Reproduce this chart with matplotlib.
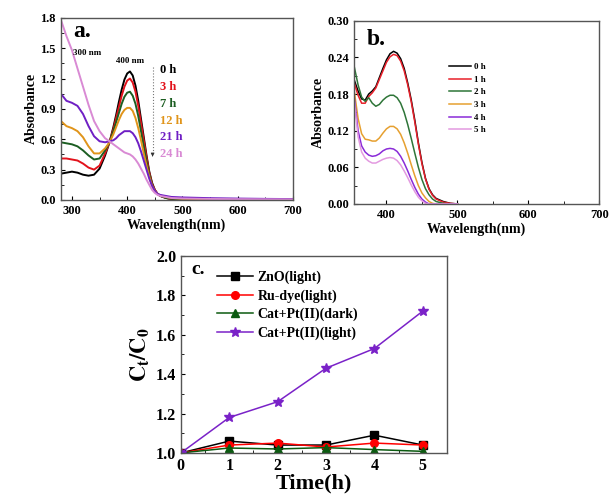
import matplotlib
matplotlib.use('Agg')
import matplotlib.pyplot as plt
from matplotlib.ticker import MultipleLocator

plt.rcParams['font.family'] = ['Liberation Serif', 'DejaVu Serif']
plt.rcParams['font.weight'] = 'bold'
plt.rcParams['mathtext.fontset'] = 'stix'

# ---------------- panel a data ----------------
WL_A = [280, 290, 300, 310, 320, 330, 340, 350, 360, 368, 375, 380, 385, 390, 395,
        400, 405, 410, 415, 420, 425, 430, 435, 440, 445, 450, 455, 460, 470, 480,
        500, 550, 600, 650, 700]
A_0h = [0.26, 0.27, 0.28, 0.27, 0.25, 0.24, 0.25, 0.31, 0.44, 0.57, 0.72, 0.84, 0.97, 1.09, 1.19,
        1.25, 1.27, 1.23, 1.13, 0.98, 0.80, 0.62, 0.44, 0.28, 0.17, 0.10, 0.06, 0.04, 0.02, 0.01,
        0.005, 0.003, 0.003, 0.002, 0.002]
A_3h = [0.41, 0.41, 0.40, 0.39, 0.36, 0.32, 0.30, 0.34, 0.46, 0.57, 0.70, 0.81, 0.92, 1.03, 1.12,
        1.18, 1.20, 1.16, 1.07, 0.93, 0.76, 0.59, 0.42, 0.27, 0.16, 0.10, 0.06, 0.04, 0.02, 0.01,
        0.006, 0.004, 0.003, 0.003, 0.002]
A_7h = [0.57, 0.56, 0.55, 0.53, 0.49, 0.44, 0.40, 0.41, 0.49, 0.57, 0.68, 0.77, 0.86, 0.95, 1.02,
        1.06, 1.07, 1.03, 0.95, 0.83, 0.68, 0.53, 0.38, 0.25, 0.15, 0.09, 0.06, 0.04, 0.02, 0.012,
        0.007, 0.005, 0.004, 0.003, 0.003]
A_12h = [0.78, 0.73, 0.71, 0.68, 0.62, 0.53, 0.46, 0.46, 0.51, 0.57, 0.65, 0.72, 0.79, 0.85, 0.89,
         0.91, 0.91, 0.88, 0.81, 0.71, 0.59, 0.46, 0.34, 0.23, 0.14, 0.09, 0.06, 0.045, 0.03, 0.02,
         0.012, 0.008, 0.006, 0.005, 0.004]
A_21h = [1.05, 0.98, 0.96, 0.93, 0.85, 0.73, 0.63, 0.58, 0.57, 0.58, 0.59, 0.61, 0.64, 0.66, 0.68,
         0.68, 0.68, 0.66, 0.62, 0.56, 0.48, 0.39, 0.30, 0.21, 0.14, 0.09, 0.06, 0.05, 0.04, 0.03,
         0.025, 0.018, 0.014, 0.011, 0.009]
A_24h = [1.78, 1.62, 1.48, 1.30, 1.12, 0.94, 0.78, 0.68, 0.61, 0.58, 0.55, 0.53, 0.51, 0.49, 0.47,
         0.46, 0.45, 0.43, 0.40, 0.36, 0.31, 0.26, 0.20, 0.15, 0.10, 0.07, 0.05, 0.04, 0.03, 0.02,
         0.015, 0.01, 0.008, 0.007, 0.006]
LABELS_A = ['0 h', '3 h', '7 h', '12 h', '21 h', '24 h']
COLORS_A = ['#000000', '#E2121B', '#1C5E22', '#E0941A', '#6F1FC4', '#D98AD4']

# ---------------- panel b data ----------------
WL_B = [354, 360, 365, 370, 375, 380, 385, 390, 395, 400, 405, 410, 415, 420, 425, 430,
        435, 440, 445, 450, 455, 460, 465, 470, 480, 490, 500]
B_0h = [0.205, 0.185, 0.172, 0.170, 0.180, 0.185, 0.192, 0.207, 0.222, 0.236, 0.246, 0.250, 0.247,
        0.238, 0.222, 0.198, 0.170, 0.137, 0.100, 0.068, 0.042, 0.025, 0.015, 0.009, 0.004, 0.001, 0.0]
B_1h = [0.200, 0.178, 0.165, 0.165, 0.176, 0.182, 0.190, 0.204, 0.218, 0.232, 0.241, 0.245, 0.243,
        0.234, 0.218, 0.195, 0.167, 0.134, 0.098, 0.066, 0.041, 0.024, 0.014, 0.008, 0.003, 0.001, 0.0]
B_2h = [0.228, 0.195, 0.175, 0.168, 0.174, 0.165, 0.160, 0.163, 0.170, 0.175, 0.178, 0.178, 0.174,
        0.165, 0.150, 0.130, 0.107, 0.083, 0.060, 0.040, 0.025, 0.015, 0.008, 0.004, 0.001, 0.0, 0.0]
B_3h = [0.190, 0.140, 0.115, 0.106, 0.105, 0.103, 0.103, 0.108, 0.116, 0.123, 0.127, 0.127, 0.123,
        0.114, 0.100, 0.083, 0.064, 0.046, 0.030, 0.018, 0.010, 0.004, 0.001, 0.0, 0.0, 0.0, 0.0]
B_4h = [0.180, 0.120, 0.095, 0.085, 0.080, 0.078, 0.079, 0.082, 0.087, 0.090, 0.091, 0.090, 0.086,
        0.078, 0.067, 0.054, 0.040, 0.027, 0.016, 0.008, 0.003, 0.0, 0.0, 0.0, 0.0, 0.0, 0.0]
B_5h = [0.175, 0.110, 0.085, 0.075, 0.070, 0.067, 0.067, 0.070, 0.073, 0.075, 0.076, 0.075, 0.071,
        0.064, 0.054, 0.043, 0.031, 0.020, 0.011, 0.005, 0.001, 0.0, 0.0, 0.0, 0.0, 0.0, 0.0]
LABELS_B = ['0 h', '1 h', '2 h', '3 h', '4 h', '5 h']
COLORS_B = ['#000000', '#E8202A', '#2E7538', '#E6A030', '#8A2BD8', '#E39AE0']

# ---------------- panel c data ----------------
TIME = [0, 1, 2, 3, 4, 5]
ZNO = [1.0, 1.06, 1.04, 1.04, 1.09, 1.04]
RU = [1.0, 1.04, 1.05, 1.03, 1.05, 1.04]
CAT_DARK = [1.0, 1.025, 1.02, 1.027, 1.017, 1.008]
CAT_LIGHT = [1.0, 1.18, 1.26, 1.43, 1.53, 1.72]
LABELS_C = ['ZnO(light)', 'Ru-dye(light)', 'Cat+Pt(II)(dark)', 'Cat+Pt(II)(light)']


def style_axes(ax, fs):
    for s in ax.spines.values():
        s.set_color('#555555')
        s.set_linewidth(1.0)
    ax.tick_params(which='both', direction='in', top=False, right=False, labelsize=fs)
    ax.tick_params(which='major', length=3)
    ax.tick_params(which='minor', length=2)
    for lab in ax.get_xticklabels() + ax.get_yticklabels():
        lab.set_fontweight('bold')


fig = plt.figure(figsize=(6.09, 4.95), dpi=100)

# ---- a ----
ax1 = fig.add_axes([0.100, 0.596, 0.381, 0.368])
for y, c in zip([A_0h, A_3h, A_7h, A_12h, A_21h, A_24h], COLORS_A):
    ax1.plot(WL_A, y, color=c, lw=1.4)
ax1.set_xlim(280, 700)
ax1.set_ylim(0, 1.8)
ax1.xaxis.set_major_locator(MultipleLocator(100))
ax1.xaxis.set_minor_locator(MultipleLocator(50))
ax1.yaxis.set_major_locator(MultipleLocator(0.3))
ax1.yaxis.set_minor_locator(MultipleLocator(0.15))
ax1.set_xlabel('Wavelength(nm)', fontsize=10, fontweight='bold', labelpad=1)
ax1.set_ylabel('Absorbance', fontsize=10, fontweight='bold', labelpad=2)
style_axes(ax1, 9)
ax1.text(302, 1.66, 'a.', fontsize=17, fontweight='bold', va='center')
ax1.text(302, 1.45, '300 nm', fontsize=6.5, fontweight='bold', va='center')
ax1.text(405, 1.37, '400 nm', fontsize=6.5, fontweight='bold', va='center', ha='center')
ax1.plot([446, 446], [1.31, 0.46], color='#777777', lw=0.8, ls=':')
ax1.annotate('', xy=(446, 0.40), xytext=(446, 0.47),
             arrowprops=dict(arrowstyle='-|>', color='#333333', lw=0.6, mutation_scale=5))
for i, (lab, c) in enumerate(zip(LABELS_A, COLORS_A)):
    ax1.text(460, 1.28 - i * 0.165, lab, color=c, fontsize=9, fontweight='bold', va='center')

# ---- b ----
ax2 = fig.add_axes([0.581, 0.588, 0.403, 0.370])
for y, c, lab in zip([B_0h, B_1h, B_2h, B_3h, B_4h, B_5h], COLORS_B, LABELS_B):
    ax2.plot(WL_B, y, color=c, lw=1.1, label=lab)
ax2.set_xlim(354, 700)
ax2.set_ylim(0, 0.30)
ax2.xaxis.set_major_locator(MultipleLocator(100))
ax2.xaxis.set_minor_locator(MultipleLocator(50))
ax2.yaxis.set_major_locator(MultipleLocator(0.06))
ax2.yaxis.set_minor_locator(MultipleLocator(0.03))
ax2.set_xlabel('Wavelength(nm)', fontsize=10, fontweight='bold', labelpad=1)
ax2.set_ylabel('Absorbance', fontsize=10, fontweight='bold', labelpad=2)
style_axes(ax2, 9)
ax2.text(372, 0.27, 'b.', fontsize=17, fontweight='bold', va='center')
ax2.legend(loc='upper left', bbox_to_anchor=(0.37, 0.795), frameon=False,
           prop={'size': 6.5, 'weight': 'bold'}, handlelength=2.4, handletextpad=0.3,
           labelspacing=0.48, borderpad=0)

# ---- c ----
ax3 = fig.add_axes([0.297, 0.085, 0.437, 0.398])
ax3.plot(TIME, ZNO, color='black', marker='s', ms=5.5, lw=1.1, label=LABELS_C[0])
ax3.plot(TIME, RU, color='#FF0000', marker='o', ms=5.5, lw=1.1, label=LABELS_C[1])
ax3.plot(TIME, CAT_DARK, color='#0B5A10', marker='^', ms=5.5, lw=1.1, label=LABELS_C[2])
ax3.plot(TIME, CAT_LIGHT, color='#7A22C8', marker='*', ms=7.5, lw=1.1, label=LABELS_C[3])
ax3.set_xlim(0, 5.5)
ax3.set_ylim(1.0, 2.0)
ax3.xaxis.set_major_locator(MultipleLocator(1))
ax3.xaxis.set_minor_locator(MultipleLocator(0.5))
ax3.yaxis.set_major_locator(MultipleLocator(0.2))
ax3.yaxis.set_minor_locator(MultipleLocator(0.1))
ax3.set_xlabel('Time(h)', fontsize=16, fontweight='bold', labelpad=0)
ax3.set_ylabel(r'$\mathbf{C_t/C_0}$', fontsize=16, labelpad=3)
style_axes(ax3, 11.5)
ax3.text(0.22, 1.93, 'c.', fontsize=14, fontweight='bold', va='center')
ax3.legend(loc='upper left', bbox_to_anchor=(0.11, 0.96), frameon=False,
           prop={'size': 10, 'weight': 'bold'}, handlelength=2.6, handletextpad=0.3,
           labelspacing=0.36, borderpad=0)

fig.savefig('out.png', dpi=100)
